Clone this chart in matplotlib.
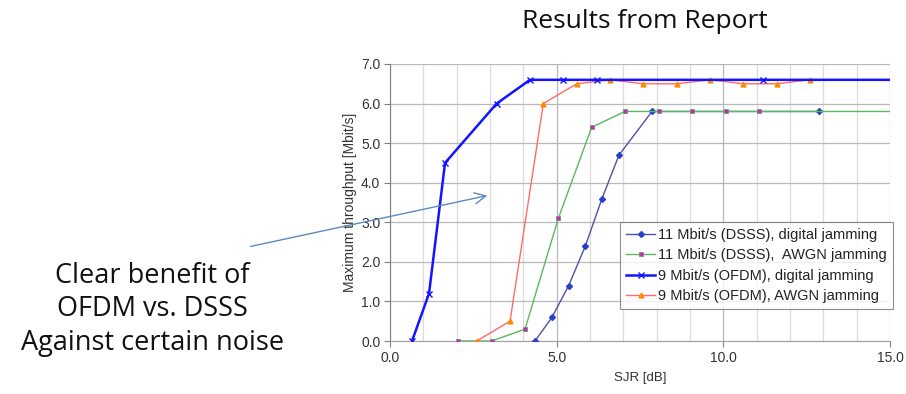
import numpy as np
import matplotlib
matplotlib.use("Agg")
import matplotlib.pyplot as plt
from matplotlib.patches import FancyArrowPatch

# SJR [dB] vs throughput [Mbit/s]
dsss_dig_x = [4.35, 4.86, 5.36, 5.86, 6.36, 6.87, 7.86, 12.87]
dsss_dig_y = [0.0, 0.6, 1.4, 2.4, 3.6, 4.7, 5.8, 5.8]

dsss_awgn_x = [2.05, 3.05, 4.05, 5.05, 6.05, 7.05, 8.07, 9.07, 10.07, 11.07, 15.0]
dsss_awgn_y = [0.0, 0.0, 0.3, 3.1, 5.4, 5.8, 5.8, 5.8, 5.8, 5.8, 5.8]

ofdm_dig_x = [0.66, 1.17, 1.65, 3.2, 4.2, 5.2, 6.2, 11.2, 15.0]
ofdm_dig_y = [0.0, 1.2, 4.5, 6.0, 6.6, 6.6, 6.6, 6.6, 6.6]

ofdm_awgn_x = [2.6, 3.6, 4.6, 5.6, 6.6, 7.6, 8.6, 9.6, 10.6, 11.6, 12.6, 15.0]
ofdm_awgn_y = [0.0, 0.5, 6.0, 6.5, 6.6, 6.5, 6.5, 6.6, 6.5, 6.5, 6.6, 6.6]

labels = ["11 Mbit/s (DSSS), digital jamming",
          "11 Mbit/s (DSSS),  AWGN jamming",
          "9 Mbit/s (OFDM), digital jamming",
          "9 Mbit/s (OFDM), AWGN jamming"]

plt.rcParams['font.family'] = ['Liberation Sans', 'DejaVu Sans']

fig = plt.figure(figsize=(9.06, 3.94), dpi=100)
ax = fig.add_axes([0.4305, 0.1345, 0.5518, 0.7031])

ax.plot(dsss_dig_x, dsss_dig_y, color='#5050a8', lw=1.0, marker='D',
        ms=3, mfc='#2a40c8', mec='#2a40c8', label=labels[0], zorder=3)
ax.plot(dsss_awgn_x, dsss_awgn_y, color='#5cb85c', lw=1.0, marker='s',
        ms=3.5, mfc='#d020c8', mec='#6a9a6a', mew=0.6, label=labels[1],
        markevery=list(range(len(dsss_awgn_x) - 1)), zorder=3)
ax.plot(ofdm_dig_x, ofdm_dig_y, color='#1414ff', lw=1.8, marker='x',
        ms=5, mew=1.0, label=labels[2],
        markevery=list(range(len(ofdm_dig_x) - 1)), zorder=4)
ax.plot(ofdm_awgn_x, ofdm_awgn_y, color='#ff6a6a', lw=1.0, marker='^',
        ms=3.5, mfc='#ff8a00', mec='#ff8a00', label=labels[3],
        markevery=list(range(len(ofdm_awgn_x) - 1)), zorder=3)

ax.set_xlim(0, 15)
ax.set_ylim(0, 7)
ax.set_xticks(np.arange(0, 15.1, 5))
ax.set_xticks(np.arange(0, 15.1, 1), minor=True)
ax.set_yticks(np.arange(0, 7.1, 1))
ax.set_xticklabels([f"{v:.1f}" for v in np.arange(0, 15.1, 5)])
ax.set_yticklabels([f"{v:.1f}" for v in np.arange(0, 7.1, 1)])
ax.grid(True, which='major', color='#b8b8b8', lw=0.9)
ax.grid(True, which='minor', axis='x', color='#dcdcdc', lw=0.9)
ax.set_axisbelow(True)
for s in ['top', 'right']:
    ax.spines[s].set_visible(False)
ax.spines['left'].set_color('#808080')
ax.spines['bottom'].set_color('#a0a0a0')
ax.tick_params(which='major', length=4, color='#808080', labelsize=10,
               labelcolor='#333333', pad=3)
ax.tick_params(which='minor', length=0)

ax.set_xlabel("SJR [dB]", fontsize=9.5, color='#333333', labelpad=5)
ax.set_ylabel("Maximum throughput [Mbit/s]", fontsize=10, color='#333333',
              labelpad=3)

leg = ax.legend(loc='lower right', bbox_to_anchor=(1.006, 0.115), fontsize=10.5,
                frameon=True, fancybox=False, edgecolor='#707070',
                handlelength=2.0, handletextpad=0.2, borderpad=0.4,
                labelspacing=0.45, borderaxespad=0.0)
leg.get_frame().set_linewidth(0.8)
for t in leg.get_texts():
    t.set_color('#222222')

fig.text(0.712, 0.945, "Results from Report", ha='center', va='center',
         fontsize=19, family=['Open Sans', 'DejaVu Sans'], color='#111111')

fig.text(0.168, 0.215, "Clear benefit of\nOFDM vs. DSSS\nAgainst certain noise",
         ha='center', va='center', fontsize=19.5, linespacing=1.25,
         family=['Open Sans', 'DejaVu Sans'], color='#111111')

arrow = FancyArrowPatch((0.2737, 0.3731), (0.5408, 0.5051),
                        transform=fig.transFigure, arrowstyle='->,head_length=8,head_width=4',
                        color='#5b8ac0', lw=1.0, zorder=10)
fig.add_artist(arrow)

fig.savefig("out.png", dpi=100)
